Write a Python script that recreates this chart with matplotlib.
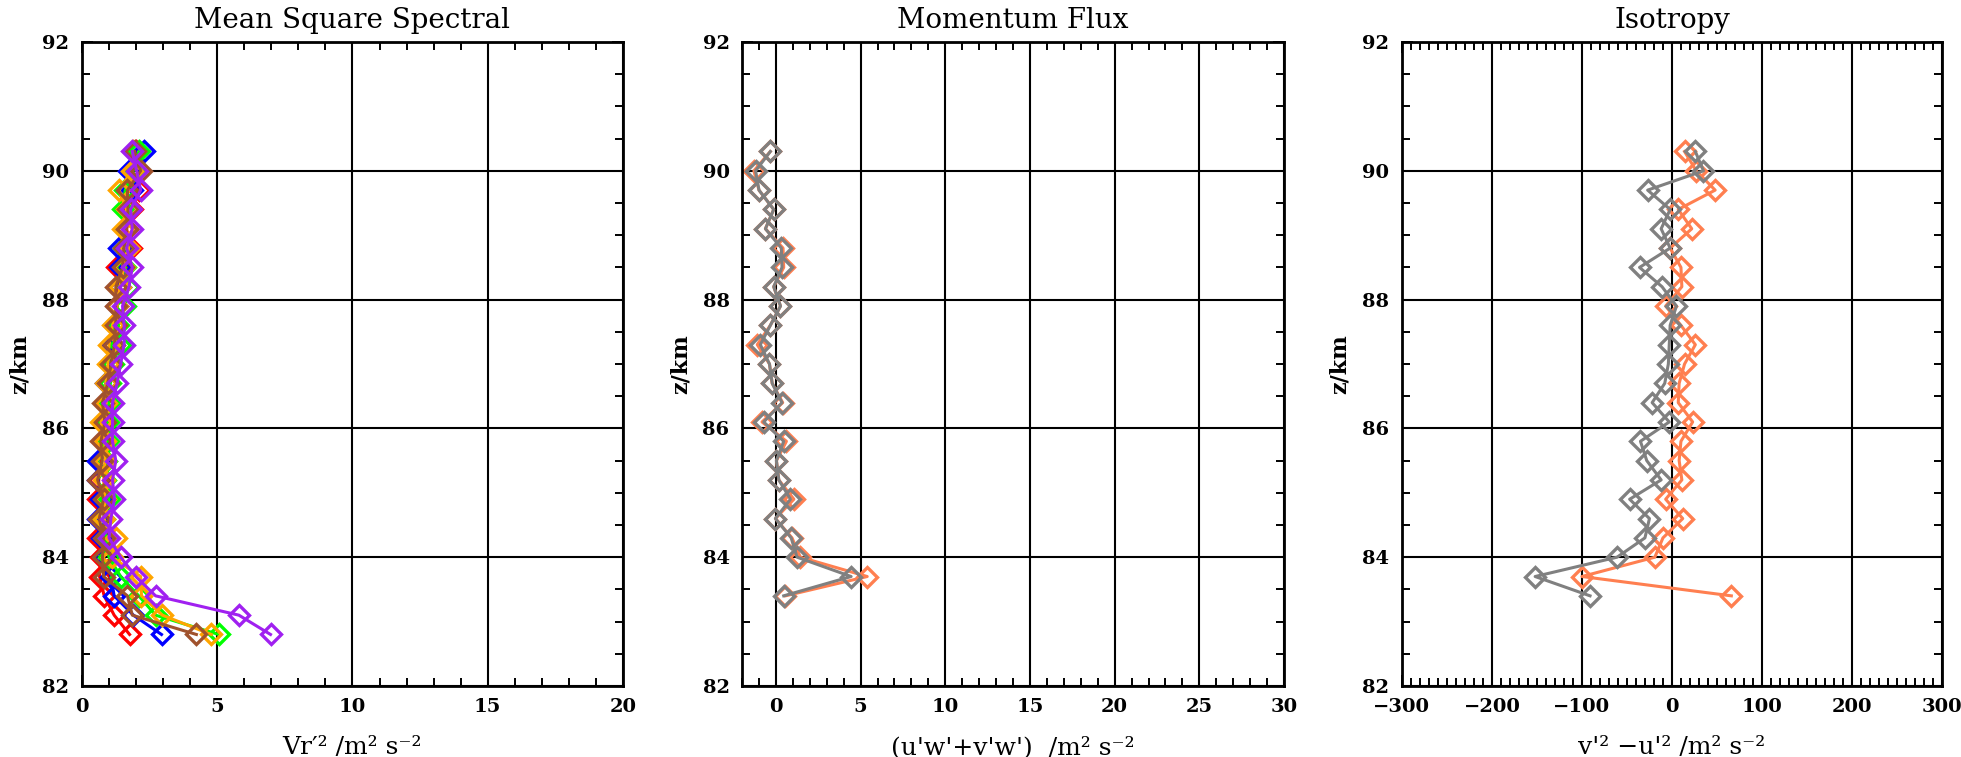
import numpy as np
import matplotlib
matplotlib.use("Agg")
import matplotlib.pyplot as plt
from matplotlib.ticker import MultipleLocator

plt.rcParams['font.family'] = ['DejaVu Serif']

# ============================================================
# DATA
# ============================================================
z_ms = [82.8, 83.1, 83.4, 83.7, 84.0, 84.3, 84.6, 84.9, 85.2, 85.5, 85.8, 86.1, 86.4,
        86.7, 87.0, 87.3, 87.6, 87.9, 88.2, 88.5, 88.8, 89.1, 89.4, 89.7, 90.0, 90.3]

ms_red = [1.76, 1.19, 0.82, 0.65, 0.70, 0.58, 0.65, 0.60, 0.62, 0.70, 0.75, 0.80, 0.85,
          0.95, 1.05, 1.15, 1.20, 1.30, 1.35, 1.31, 1.80, 1.65, 1.85, 2.10, 1.85, 2.00]
ms_blue = [2.94, 1.90, 1.19, 1.07, 0.80, 0.75, 0.58, 0.70, 0.60, 0.58, 0.75, 0.85, 0.90,
           0.88, 1.00, 1.10, 1.20, 1.30, 1.40, 1.41, 1.37, 1.60, 1.70, 1.85, 1.73, 2.29]
ms_green = [5.05, 2.72, 2.10, 1.43, 1.00, 0.90, 0.80, 1.00, 0.85, 0.90, 0.95, 0.95, 1.00,
            1.05, 1.15, 1.40, 1.35, 1.60, 1.70, 1.60, 1.55, 1.60, 1.50, 1.60, 1.90, 2.11]
ms_orange = [4.78, 2.97, 2.20, 2.17, 1.10, 1.25, 0.80, 0.85, 0.80, 0.85, 0.85, 0.70, 0.90,
             0.88, 0.96, 1.00, 1.13, 1.30, 1.40, 1.55, 1.73, 1.50, 1.65, 1.36, 1.85, 1.90]
ms_brown = [4.23, 1.86, 1.68, 0.80, 0.76, 0.80, 0.64, 0.80, 0.58, 0.75, 0.70, 0.85, 0.76,
            0.95, 1.08, 1.20, 1.25, 1.25, 1.25, 1.50, 1.55, 1.65, 1.70, 1.68, 2.17, 1.95]
ms_purple = [6.97, 5.80, 2.72, 1.99, 1.43, 1.00, 1.07, 1.20, 1.13, 1.25, 1.13, 1.13, 1.13,
             1.30, 1.43, 1.56, 1.56, 1.50, 1.74, 1.86, 1.65, 1.86, 1.80, 2.17, 2.02, 1.86]

z_flux = [83.4, 83.7, 84.0, 84.3, 84.6, 84.9, 85.2, 85.5, 85.8, 86.1, 86.4, 86.7,
          87.0, 87.3, 87.6, 87.9, 88.2, 88.5, 88.8, 89.1, 89.4, 89.7, 90.0, 90.3]
flux_coral = [0.56, 5.39, 1.44, 0.95, -0.03, 1.06, 0.17, 0.03, 0.62, -0.82, 0.40, -0.22,
              -0.38, -1.10, -0.33, 0.27, -0.13, 0.46, 0.42, -0.62, -0.13, -1.00, -1.30, -0.33]
flux_gray = [0.46, 4.44, 1.25, 0.90, -0.03, 0.86, 0.17, 0.03, 0.46, -0.72, 0.36, -0.22,
             -0.38, -0.92, -0.33, 0.27, -0.13, 0.36, 0.32, -0.62, -0.13, -1.00, -1.20, -0.33]

iso_coral = [66, -100, -19, -10, 12, -7, 11, 8, 10, 23, 7, 8,
             14, 26, 10, -7, 11, 10, -2, 22, 7, 48, 27, 14]
iso_gray = [-91, -152, -61, -30, -25, -47, -12, -28, -35, -3, -22, -8,
            -4, -3, -2, 5, -11, -36, -2, -12, -2, -27, 35, 26]

ms_series = [ms_red, ms_blue, ms_green, ms_orange, ms_brown, ms_purple]
ms_colors = ['#ff0000', '#0000ff', '#00ff00', '#ffa500', '#a0522d', '#a020f0']

# ============================================================
# FIGURE
# ============================================================
fig = plt.figure(figsize=(19.61, 7.57), dpi=100)
bottom, height = 0.0938, 0.8507
ax1 = fig.add_axes([0.0418, bottom, 0.2759, height])
ax2 = fig.add_axes([0.3784, bottom, 0.2764, height])
ax3 = fig.add_axes([0.7149, bottom, 0.2754, height])

mk = dict(marker='D', markersize=10, markerfacecolor='none', markeredgewidth=2.4,
          linewidth=2.2)

for vals, c in zip(ms_series, ms_colors):
    ax1.plot(vals, z_ms, color=c, markeredgecolor=c, **mk)

ax2.plot(flux_coral, z_flux, color='#ff7f50', markeredgecolor='#ff7f50', **mk)
ax2.plot(flux_gray, z_flux, color='#808080', markeredgecolor='#808080', **mk)

ax3.plot(iso_coral, z_flux, color='#ff7f50', markeredgecolor='#ff7f50', **mk)
ax3.plot(iso_gray, z_flux, color='#808080', markeredgecolor='#808080', **mk)

setup = [
    (ax1, (0, 20), 5, 1, 'Mean Square Spectral', 'Vr\u2032\u00b2 /m\u00b2 s\u207b\u00b2'),
    (ax2, (-2, 30), 5, 1, 'Momentum Flux', "(u'w'+v'w')  /m\u00b2 s\u207b\u00b2"),
    (ax3, (-300, 300), 100, 10, 'Isotropy', "v'\u00b2 \u2212u'\u00b2 /m\u00b2 s\u207b\u00b2"),
]

for ax, xlim, major, minor, title, xlabel in setup:
    ax.set_xlim(*xlim)
    ax.set_ylim(82, 92)
    ax.xaxis.set_major_locator(MultipleLocator(major))
    ax.xaxis.set_minor_locator(MultipleLocator(minor))
    ax.yaxis.set_major_locator(MultipleLocator(2))
    ax.yaxis.set_minor_locator(MultipleLocator(0.5))
    ax.grid(which='major', color='black', linewidth=1.5)
    ax.set_axisbelow(True)
    ax.tick_params(which='both', direction='in', top=True, right=True, width=1.4)
    ax.tick_params(which='major', length=8, pad=9)
    ax.tick_params(which='minor', length=6)
    for lab in ax.get_xticklabels() + ax.get_yticklabels():
        lab.set_fontweight('bold')
        lab.set_fontsize(14)
    for s in ax.spines.values():
        s.set_linewidth(2.0)
    ax.set_title(title, fontsize=20, pad=10)
    ax.set_xlabel(xlabel, fontsize=18, labelpad=14)
    ax.set_ylabel('z/km', fontsize=16, fontweight='bold', labelpad=8)

fig.savefig('out.png', dpi=100)
